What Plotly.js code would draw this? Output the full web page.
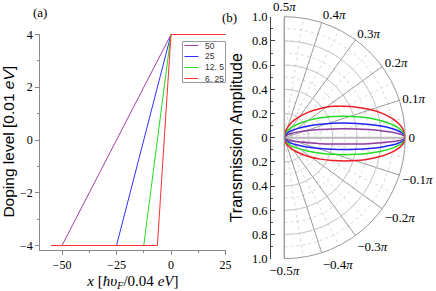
<!DOCTYPE html>
<html><head><meta charset="utf-8">
<script src="https://cdn.plot.ly/plotly-3.0.1.min.js"></script>
<style>html,body{margin:0;padding:0;background:#fff}#chart{width:436px;height:291px}</style>
</head><body><div id="chart"></div>
<script>
// ---------- Panel (a): doping profiles ----------
const seriesNames = ['50', '25', '12. 5', '6. 25'];
const dopingLevel = [-4, -4, 4, 4];
const xPos50 = [-55, -50, 0, 25];
const xPos25 = [-55, -25, 0, 25];
const xPos12_5 = [-55, -12.5, 0, 25];
const xPos6_25 = [-55, -6.25, 0, 25];
const xTickVals = [-50, -25, 0, 25];
const yTickVals = [-4, -2, 0, 2, 4];

// ---------- Panel (b): transmission amplitude, read as horizontal / vertical components ----------
const xAlong = [0, 0.01, 0.03, 0.06, 0.1, 0.2, 0.3, 0.4, 0.5, 0.6, 0.7, 0.8, 0.9, 0.94, 0.97, 0.99, 1];
const redUpper    = [0, 0.053, 0.090, 0.125, 0.158, 0.211, 0.242, 0.259, 0.260, 0.252, 0.235, 0.205, 0.153, 0.121, 0.087, 0.050, 0];
const redLower    = [0, -0.039, -0.066, -0.092, -0.116, -0.155, -0.177, -0.189, -0.193, -0.189, -0.176, -0.154, -0.115, -0.091, -0.065, -0.038, 0];
const greenUpper  = [0, 0.036, 0.061, 0.085, 0.107, 0.143, 0.164, 0.175, 0.177, 0.173, 0.162, 0.140, 0.105, 0.083, 0.059, 0.034, 0];
const greenLower  = [0, -0.028, -0.048, -0.067, -0.084, -0.112, -0.128, -0.137, -0.140, -0.137, -0.128, -0.112, -0.084, -0.066, -0.048, -0.028, 0];
const blueUpper   = [0, 0.024, 0.042, 0.058, 0.073, 0.097, 0.111, 0.119, 0.121, 0.118, 0.110, 0.096, 0.072, 0.057, 0.041, 0.023, 0];
const blueLower   = [0, -0.020, -0.033, -0.047, -0.059, -0.078, -0.090, -0.096, -0.098, -0.096, -0.090, -0.078, -0.059, -0.046, -0.033, -0.019, 0];
const purpleUpper = [0, 0.015, 0.025, 0.035, 0.044, 0.059, 0.067, 0.072, 0.073, 0.071, 0.067, 0.058, 0.044, 0.034, 0.025, 0.014, 0];
const purpleLower = [0, -0.011, -0.018, -0.025, -0.032, -0.042, -0.049, -0.052, -0.053, -0.052, -0.049, -0.042, -0.032, -0.025, -0.018, -0.011, 0];
const radialTickVals = [-1, -0.8, -0.6, -0.4, -0.2, 0, 0.2, 0.4, 0.6, 0.8, 1];
const radialTickText = ['1.0', '0.8', '0.6', '0.4', '0.2', '0', '0.2', '0.4', '0.6', '0.8', '1.0'];
const angleTickVals = [-90, -72, -54, -36, -18, 0, 18, 36, 54, 72, 90];
const angleTickText = ['\u22120.5<i>π</i>', '\u22120.4<i>π</i>', '\u22120.3<i>π</i>', '\u22120.2<i>π</i>', '\u22120.1<i>π</i>', '0',
                       '0.1<i>π</i>', '0.2<i>π</i>', '0.3<i>π</i>', '0.4<i>π</i>', '0.5<i>π</i>'];

// ---------- styles ----------
const colA = ['#a040a8', '#3030ff', '#22dd22', '#ff3030'];
const colB = {purple: '#8e3a9e', blue: '#2222ff', green: '#22dd22', red: '#ee1c24'};
const SERIF = 'Liberation Serif, Times New Roman, serif';
const SANS = 'Liberation Sans, Arial, sans-serif';
const W = 436, H = 291;
const px = v => v / W, py = v => (H - v) / H;

const xsA = [xPos50, xPos25, xPos12_5, xPos6_25];
const traces = xsA.map((xs, i) => ({
  type: 'scatter', mode: 'lines', x: xs, y: dopingLevel, name: seriesNames[i],
  xaxis: 'x', yaxis: 'y', line: {color: colA[i], width: 1}, showlegend: false, hoverinfo: 'skip'
}));

// closed loop (upper branch, then lower branch back), converted to polar coordinates
function loopPolar(upper, lower) {
  const xs = xAlong.concat(xAlong.slice().reverse());
  const ys = upper.concat(lower.slice().reverse());
  return {
    r: xs.map((x, i) => Math.hypot(x, ys[i])),
    theta: xs.map((x, i) => Math.atan2(ys[i], x) * 180 / Math.PI)
  };
}
const bSets = [['purple', purpleUpper, purpleLower], ['blue', blueUpper, blueLower],
               ['green', greenUpper, greenLower], ['red', redUpper, redLower]];
bSets.forEach(([c, u, l]) => {
  const d = loopPolar(u, l);
  traces.push({type: 'scatterpolar', subplot: 'polar2', mode: 'lines', r: d.r, theta: d.theta,
    line: {color: colB[c], width: 1.5, shape: 'spline', smoothing: 0.8}, showlegend: false, hoverinfo: 'skip'});
});
// invisible helpers so that the minor-grid polar and the left radial scale are drawn
traces.push({type: 'scatterpolar', subplot: 'polar', r: [0], theta: [0], mode: 'markers', marker: {opacity: 0}, showlegend: false, hoverinfo: 'skip'});
traces.push({type: 'scatter', xaxis: 'x2', yaxis: 'y2', x: [0], y: [0], mode: 'markers', marker: {opacity: 0}, showlegend: false, hoverinfo: 'skip'});

// polar geometry: centre (284.3,137.7), radius 121
const cx = 284.3, cy = 137.7, R = 121;
const polDomX = [px(cx), px(cx + R)];
const polDomY = [py(cy + R), py(cy - R)];

// compact legend for panel (a)
const shapes = [{type: 'rect', xref: 'paper', yref: 'paper', x0: px(182.5), x1: px(225.5), y0: py(82.5), y1: py(41.5),
  line: {color: '#999', width: 1}, fillcolor: '#fff', layer: 'above'}];
const annotations = [];
const legY = [45.5, 56.5, 67.5, 78.5];
seriesNames.forEach((n, i) => {
  shapes.push({type: 'line', xref: 'paper', yref: 'paper', x0: px(184.5), x1: px(198.5), y0: py(legY[i]), y1: py(legY[i]),
    line: {color: colA[i], width: 1}, layer: 'above'});
  annotations.push({xref: 'paper', yref: 'paper', x: px(202.5), y: py(legY[i]), xanchor: 'left', yanchor: 'middle',
    text: n, showarrow: false, font: {family: SANS, size: 8.5, color: '#333'}});
});
annotations.push({xref: 'paper', yref: 'paper', x: px(40), y: py(13), text: '(a)', showarrow: false,
  xanchor: 'center', yanchor: 'middle', font: {family: SERIF, size: 13, color: '#000'}});
annotations.push({xref: 'paper', yref: 'paper', x: px(230), y: py(17), text: '(b)', showarrow: false,
  xanchor: 'center', yanchor: 'middle', font: {family: SERIF, size: 13, color: '#000'}});

const layout = {
  width: W, height: H, margin: {l: 0, r: 0, t: 0, b: 0},
  paper_bgcolor: '#fff', plot_bgcolor: 'rgba(0,0,0,0)', showlegend: false,
  xaxis: {domain: [px(40.2), px(225.5)], range: [-60, 25], anchor: 'y',
    tickvals: xTickVals, ticks: 'outside', ticklen: 4, tickcolor: '#888', showgrid: false, zeroline: false,
    showline: true, linecolor: '#888', linewidth: 1,
    minor: {dtick: 12.5, tick0: 0, ticks: 'outside', ticklen: 2, tickcolor: '#888', showgrid: false},
    tickfont: {family: SERIF, size: 12, color: '#000'},
    title: {text: '<i>x</i> [<i>ħυ</i><sub><i>F</i></sub>/0.04 <i>eV</i>]', font: {family: SERIF, size: 15, color: '#000'}, standoff: 4}},
  yaxis: {domain: [py(250), py(33.5)], range: [-4.1706, 4.0379], anchor: 'x',
    tickvals: yTickVals, ticks: 'outside', ticklen: 4, tickcolor: '#888', showgrid: false, zeroline: false,
    showline: true, linecolor: '#888', linewidth: 1,
    minor: {dtick: 1, tick0: 0, ticks: 'outside', ticklen: 2, tickcolor: '#888', showgrid: false},
    tickfont: {family: SERIF, size: 12, color: '#000'},
    title: {text: 'Doping level [0.01 <i>eV</i>]', font: {family: SANS, size: 15.5, color: '#000'}, standoff: 4}},
  xaxis2: {domain: [px(cx - 0.05 * R), px(cx + 1.05 * R)], range: [-0.05, 1.05], anchor: 'y2', visible: false, fixedrange: true},
  yaxis2: {domain: polDomY, range: [-1, 1], anchor: 'free', position: px(270),
    tickvals: radialTickVals, ticktext: radialTickText, ticks: 'inside', ticklen: 4, tickcolor: '#444',
    minor: {dtick: 0.1, tick0: 0, ticks: 'inside', ticklen: 2, tickcolor: '#444', showgrid: false},
    showline: true, linecolor: '#444', linewidth: 1, showgrid: false, zeroline: false,
    tickfont: {family: SERIF, size: 12.5, color: '#000'},
    title: {text: 'Transmission Amplitude', font: {family: SANS, size: 16, color: '#000'}, standoff: 4}},
  polar: {domain: {x: polDomX, y: polDomY}, sector: [-90, 90], bgcolor: '#fff',
    angularaxis: {rotation: 0, direction: 'counterclockwise', dtick: 9, showgrid: true, gridcolor: '#d8d8d8', griddash: 'dot',
      showline: false, ticks: '', showticklabels: false},
    radialaxis: {range: [0, 1], dtick: 0.1, showgrid: true, gridcolor: '#d8d8d8', griddash: 'dot',
      showline: false, ticks: '', showticklabels: false}},
  polar2: {domain: {x: polDomX, y: polDomY}, sector: [-90, 90], bgcolor: 'rgba(0,0,0,0)',
    angularaxis: {rotation: 0, direction: 'counterclockwise', tickvals: angleTickVals, ticktext: angleTickText,
      showgrid: true, gridcolor: '#8a8a8a', gridwidth: 0.8, showline: true, linecolor: '#999', linewidth: 1, ticks: '',
      tickfont: {family: SERIF, size: 13, color: '#000'}},
    radialaxis: {range: [0, 1], dtick: 0.2, angle: 0, showgrid: true, gridcolor: '#c8c8c8',
      showline: true, linecolor: '#bbbbbb', linewidth: 2, ticks: '', showticklabels: false, layer: 'below traces'}},
  shapes: shapes, annotations: annotations
};

Plotly.newPlot('chart', traces, layout, {displayModeBar: false, staticPlot: true});
</script></body></html>
